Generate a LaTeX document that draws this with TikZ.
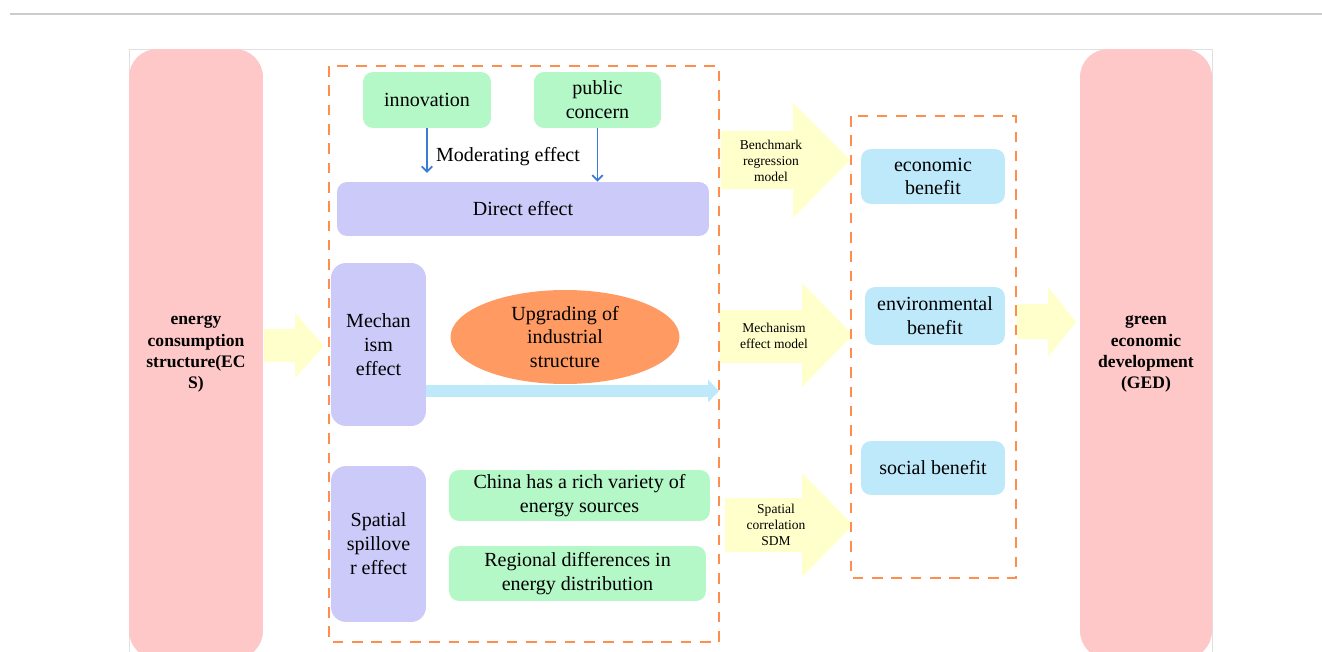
\documentclass[tikz,border=0pt]{standalone}
\usepackage{fontspec}
\setmainfont{Liberation Serif}
\usetikzlibrary{arrows.meta, shapes.geometric}

\definecolor{boxpink}{HTML}{FFC8C8}
\definecolor{boxgreen}{HTML}{B5F8C8}
\definecolor{boxlilac}{HTML}{CBCAF9}
\definecolor{boxblue}{HTML}{BEE9FB}
\definecolor{upgradeorange}{HTML}{FF9A62}
\definecolor{arrowyellow}{HTML}{FFFFCC}
\definecolor{dashorange}{HTML}{FF8D4E}
\definecolor{modblue}{HTML}{3A7BD5}
\definecolor{framegray}{HTML}{CCCCCC}

\begin{document}
\begin{tikzpicture}[x=0.02cm, y=-0.02cm,
        base/.style={inner sep=0pt, align=center, font=\fontsize{11.4}{13.6}\selectfont},
        pinkbox/.style={base, fill=boxpink, rounded corners=0.56cm, minimum width=2.68cm, minimum height=12.2cm, font=\fontsize{10}{12.1}\selectfont\bfseries},
        greenbox/.style={base, fill=boxgreen, rounded corners=0.2cm},
        lilacbox/.style={base, fill=boxlilac, rounded corners=0.3cm},
        bluebox/.style={base, fill=boxblue, rounded corners=0.2cm},
        groupbox/.style={draw=dashorange, line width=1.6pt, dash pattern=on 6pt off 5pt},
        bigarrow/.style={fill=arrowyellow},
        smalltext/.style={align=center, inner sep=0pt, font=\fontsize{7.7}{9.2}\selectfont},
        modarrow/.style={draw=modblue, line width=1pt, -{Straight Barb[length=3pt, width=6pt]}},
        mecharrow/.style={draw=boxblue, line width=6.8pt, -{Triangle[length=6.2pt, width=12.5pt]}}
    ]

        \useasboundingbox (0,0) rectangle (1322,652);

        \draw[framegray, line width=0.9pt]
            (10,14) -- (1322,14);

        \draw[framegray!60, line width=0.5pt]
            (129,660) -- (129,49) -- (1212,49) -- (1212,660);

        \node[pinkbox] (ecs) at (196,354) {energy\\consumption\\structure(EC\\S)};
        \node[pinkbox, minimum width=2.64cm] (ged) at (1146,354) {green\\economic\\development\\(GED)};

        \node[greenbox, minimum width=2.56cm, minimum height=1.12cm] (innov) at (427,100) {innovation};
        \node[greenbox, minimum width=2.54cm, minimum height=1.12cm] (concern) at (597.5,100) {public\\concern};
        \node[lilacbox, rounded corners=0.2cm, minimum width=7.44cm, minimum height=1.08cm] (direct) at (523,209) {Direct effect};
        \node[base] (moderating) at (508,157) {Moderating effect};

        \node[lilacbox, minimum width=1.9cm, minimum height=3.26cm] (mech) at (378.5,344.5) {Mechan\\ism\\effect};
        \node[base, ellipse, fill=upgradeorange, minimum width=4.58cm, minimum height=1.88cm] (upgrade) at (565,337) {Upgrading of\\industrial\\structure};

        \node[lilacbox, minimum width=1.9cm, minimum height=3.12cm] (spill) at (378.5,544) {Spatial\\spillove\\r effect};
        \node[greenbox, minimum width=5.22cm, minimum height=1.02cm] (variety) at (579.5,495.5) {China has a rich variety of\\energy sources};
        \node[greenbox, minimum width=5.14cm, minimum height=1.1cm] (regional) at (577.5,573.5) {Regional differences in\\energy distribution};

        \node[bluebox, minimum width=2.88cm, minimum height=1.1cm] (econ) at (933,176.5) {economic\\benefit};
        \node[bluebox, minimum width=2.8cm, minimum height=1.16cm] (env) at (935,316) {environmental\\benefit};
        \node[bluebox, minimum width=2.88cm, minimum height=1.08cm] (social) at (933,468) {social benefit};

        \draw[modarrow, shorten >=5pt]
            (innov.south) -- (innov.south |- direct.north);

        \draw[modarrow]
            (concern.south) -- (concern.south |- direct.north);

        \coordinate (mechtip) at (719,391);
        \draw[mecharrow]
            (mech.east |- mechtip) -- (mechtip);

        \fill[bigarrow]
            (264,329) -- (295,329) -- (295,313) -- (324,346) -- (295,378) -- (295,362) -- (264,362) -- cycle
            (721,131) -- (793,131) -- (793,103) -- (850,160) -- (793,218) -- (793,189) -- (721,189) -- cycle
            (720,310) -- (802,310) -- (802,283) -- (853,335) -- (802,387) -- (802,363) -- (720,363) -- cycle
            (725,498) -- (802,498) -- (802,473) -- (853,525) -- (802,577) -- (802,552) -- (725,552) -- cycle
            (1017,304) -- (1048,304) -- (1048,287) -- (1076,322) -- (1048,357) -- (1048,339) -- (1017,339) -- cycle;

        \node[smalltext] (benchlabel) at (771,161) {Benchmark\\regression\\model};
        \node[smalltext] (mechlabel) at (774,336) {Mechanism\\effect model};
        \node[smalltext] (spatiallabel) at (776,525) {Spatial\\correlation\\SDM};

        \draw[groupbox]
            (329,66) rectangle (719,642)
            (851,116) rectangle (1016,578);

\end{tikzpicture}
\end{document}
